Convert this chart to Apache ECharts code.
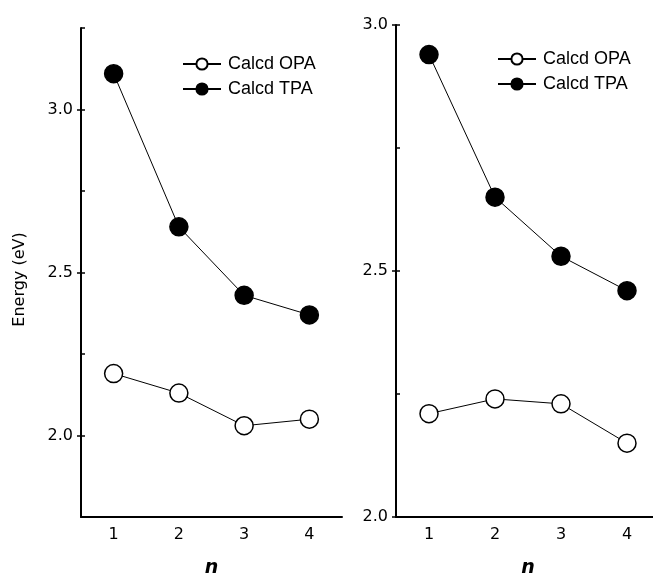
<!DOCTYPE html>
<html>
<head>
<meta charset="utf-8">
<script src="https://cdn.jsdelivr.net/npm/echarts@6/dist/echarts.min.js"></script>
<style>
  html, body { margin: 0; padding: 0; background: #fff; }
  #chart { width: 653px; height: 575px; }
</style>
</head>
<body>
<div id="chart"></div>
<script>
// x categories (n)
var nLabels = ['1', '2', '3', '4'];

// left panel
var leftOPA = [2.19, 2.13, 2.03, 2.05];
var leftTPA = [3.11, 2.64, 2.43, 2.37];
var leftTicks = [2.0, 2.5, 3.0];

// right panel
var rightOPA = [2.21, 2.24, 2.23, 2.15];
var rightTPA = [2.94, 2.65, 2.53, 2.46];
var rightTicks = [2.0, 2.5, 3.0];

var seriesNames = ['Calcd OPA', 'Calcd TPA'];

var tickFont = { color: '#000', fontFamily: 'DejaVu Sans', fontSize: 16 };

function xAxisFor(gridIndex) {
    return {
        type: 'category',
        gridIndex: gridIndex,
        data: nLabels,
        boundaryGap: true,
        name: 'n',
        nameLocation: 'middle',
        nameGap: 42,
        nameTextStyle: { color: '#000', fontFamily: 'DejaVu Sans', fontSize: 19, fontWeight: 'bold', fontStyle: 'italic' },
        axisLine: { show: true, lineStyle: { color: '#000', width: 2 } },
        axisTick: { show: false },
        axisLabel: Object.assign({ margin: 10 }, tickFont),
        splitLine: { show: false }
    };
}

// main y axis: labels + outward major ticks
function yAxisMain(gridIndex, min, max, ticks, name) {
    return {
        type: 'value',
        gridIndex: gridIndex,
        min: min,
        max: max,
        name: name,
        nameLocation: 'middle',
        nameGap: 53,
        nameTextStyle: { color: '#000', fontFamily: 'DejaVu Sans', fontSize: 16, padding: [0, 14, 0, 0] },
        axisLine: { show: true, lineStyle: { color: '#000', width: 2 } },
        axisTick: { show: true, inside: false, length: 4, customValues: ticks, lineStyle: { color: '#000', width: 1.5 } },
        axisLabel: Object.assign({
            margin: 8,
            customValues: ticks,
            verticalAlignMinLabel: 'middle',
            verticalAlignMaxLabel: 'middle',
            formatter: function (v) { return v.toFixed(1); }
        }, tickFont),
        splitLine: { show: false }
    };
}

// overlay y axis: inward ticks every 0.25
function yAxisInner(gridIndex, min, max) {
    return {
        type: 'value',
        gridIndex: gridIndex,
        position: 'left',
        offset: 0,
        min: min,
        max: max,
        interval: 0.25,
        axisLine: { show: false },
        axisTick: { show: true, inside: true, length: 4, lineStyle: { color: '#000', width: 1.5 } },
        axisLabel: { show: false },
        splitLine: { show: false }
    };
}

function lineSeries(name, data, xi, yi, fill) {
    return {
        name: name,
        type: 'line',
        xAxisIndex: xi,
        yAxisIndex: yi,
        data: data,
        symbol: 'circle',
        symbolSize: 18,
        lineStyle: { color: '#000', width: 1 },
        itemStyle: { color: fill, borderColor: '#000', borderWidth: 1.5 },
        z: 3
    };
}

function legendFor(left, top) {
    return {
        data: seriesNames,
        orient: 'vertical',
        left: left,
        top: top,
        padding: 0,
        itemWidth: 38,
        itemHeight: 14,
        itemGap: 7,
        textStyle: { color: '#000', fontFamily: 'Liberation Sans', fontSize: 18, padding: [0, 0, 0, 2] }
    };
}

var chart = echarts.init(document.getElementById('chart'));
chart.setOption({
    backgroundColor: '#fff',
    animation: false,
    legend: [legendFor(182, 55), legendFor(497, 50)],
    grid: [
        { left: 81, top: 28, width: 261, height: 489, outerBoundsMode: 'none' },
        { left: 396, top: 25, right: -7, height: 492, outerBoundsMode: 'none' }
    ],
    xAxis: [xAxisFor(0), xAxisFor(1)],
    yAxis: [
        yAxisMain(0, 1.75, 3.25, leftTicks, 'Energy (eV)'),
        yAxisInner(0, 1.75, 3.25),
        yAxisMain(1, 2.0, 3.0, rightTicks, ''),
        yAxisInner(1, 2.0, 3.0)
    ],
    series: [
        lineSeries(seriesNames[0], leftOPA, 0, 0, '#fff'),
        lineSeries(seriesNames[1], leftTPA, 0, 0, '#000'),
        lineSeries(seriesNames[0], rightOPA, 1, 2, '#fff'),
        lineSeries(seriesNames[1], rightTPA, 1, 2, '#000')
    ]
});
</script>
</body>
</html>
